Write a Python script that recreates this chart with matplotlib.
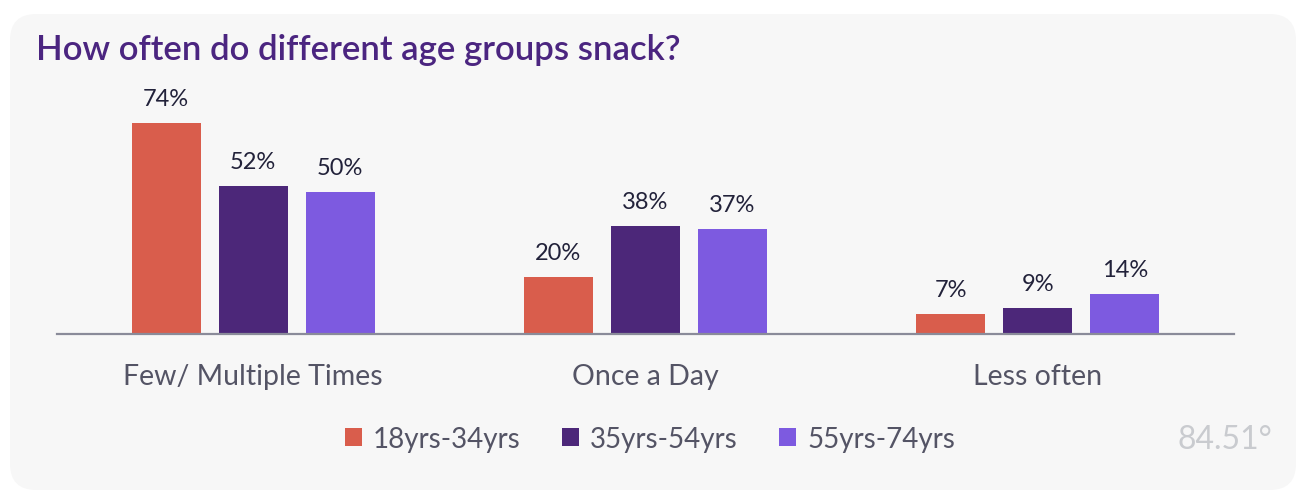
import matplotlib
matplotlib.use("Agg")
import matplotlib.pyplot as plt
from matplotlib.patches import FancyBboxPatch, Patch
import numpy as np

categories = ["Few/ Multiple Times", "Once a Day", "Less often"]
series_names = ["18yrs-34yrs", "35yrs-54yrs", "55yrs-74yrs"]
age_18_34 = [74, 20, 7]
age_35_54 = [52, 38, 9]
age_55_74 = [50, 37, 14]
colors = ["#D95D4C", "#4C2779", "#7D5AE0"]

title = "How often do different age groups snack?"

plt.rcParams['font.family'] = ['Lato', 'DejaVu Sans']

W, H = 1312, 502
fig = plt.figure(figsize=(W / 100, H / 100), dpi=100)
fig.patch.set_facecolor("white")

# background panel
panel = FancyBboxPatch((10 / W, 1 - 491 / H), (1296 - 10) / W, (491 - 15) / H,
                       boxstyle="round,pad=0,rounding_size=0.02",
                       transform=fig.transFigure, facecolor="#F7F7F7",
                       edgecolor="none", zorder=-5, mutation_aspect=W / H)
fig.patches.append(panel)

fig.text(36 / W, 1 - 50 / H, title, fontsize=25, fontweight="semibold",
         color="#4B2580", ha="left", va="center", zorder=3)

left, right = 57 / W, 1234 / W
bottom = 1 - 335 / H
top = 1 - 81 / H
ax = fig.add_axes([left, bottom, right - left, top - bottom])
ax.set_zorder(2)
ax.set_facecolor("none")

x = np.arange(len(categories))
bw = 69 / 392.3
step = 87 / 392.3
series = [age_18_34, age_35_54, age_55_74]
for i, (vals, c) in enumerate(zip(series, colors)):
    pos = x + (i - 1) * step
    bars = ax.bar(pos, vals, width=bw, color=c, zorder=2)
    for p, v in zip(pos, vals):
        ax.annotate(f"{v}%", (p, v), xytext=(0, 10), textcoords="offset points",
                    ha="center", va="bottom", fontsize=17, color="#22223A")

ax.set_xlim(-0.5, 2.5)
ax.set_ylim(0, (335 - 81) / 2.85)
for s in ["top", "left", "right"]:
    ax.spines[s].set_visible(False)
ax.spines["bottom"].set_color("#8A8B99")
ax.spines["bottom"].set_linewidth(1.6)
ax.set_yticks([])
ax.set_xticks(x)
ax.set_xticklabels(categories, fontsize=20.5, color="#545465")
ax.tick_params(axis="x", length=0, pad=21)

handles = [Patch(facecolor=c, edgecolor="none") for c in colors]
leg = fig.legend(handles, series_names, loc="center", bbox_to_anchor=(650 / W, 1 - 440 / H),
                 ncol=3, frameon=False, fontsize=20, labelcolor="#545465",
                 handlelength=0.6, handleheight=0.6, handletextpad=0.4, columnspacing=1.5)
leg.set_zorder(3)

fig.text(1225 / W, 1 - 440 / H, "84.51°", fontsize=23, color="#C9CBCF",
         ha="center", va="center", zorder=3)

fig.savefig("out.png", dpi=100, facecolor="white")
